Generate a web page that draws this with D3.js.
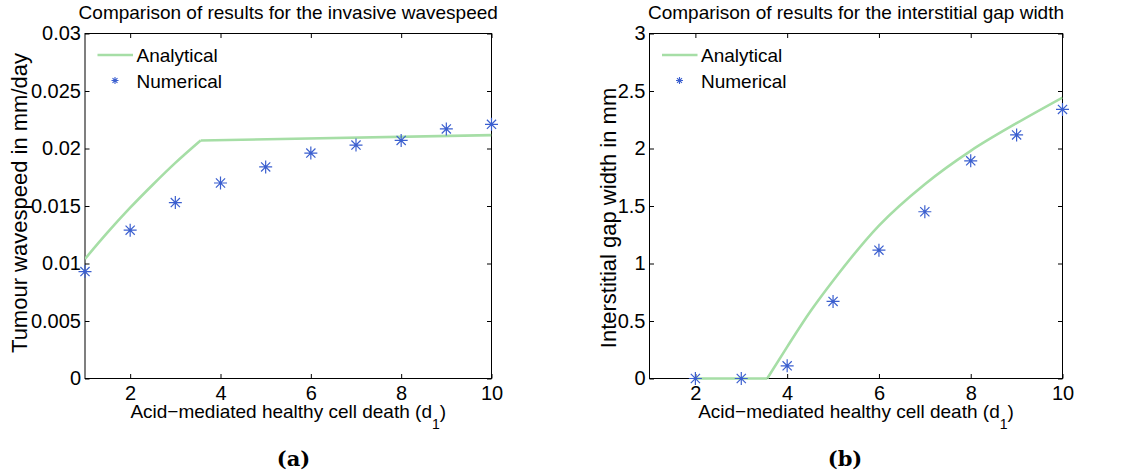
<!DOCTYPE html>
<html>
<head>
<meta charset="utf-8">
<script src="https://cdn.jsdelivr.net/npm/d3@7"></script>
<style>
  html, body { margin: 0; padding: 0; background: #fff; }
  svg { display: block; }
  text { font-family: "Liberation Sans", Arial, Helvetica, sans-serif; fill: #000; }
  text.caption { font-family: "DejaVu Serif", "Liberation Serif", serif; font-weight: bold; }
</style>
</head>
<body>
<svg id="chart" width="1124" height="475"></svg>
<script>
// ---------- data ----------
const d1Values = [1, 2, 3, 4, 5, 6, 7, 8, 9, 10];
const speedNumerical = [0.0093, 0.0129, 0.0153, 0.0170, 0.0184, 0.0196, 0.0203, 0.0207, 0.0217, 0.0221];
const speedAnalyticalX = [1, 1.5, 2, 2.5, 3, 3.56, 10];
const speedAnalyticalY = [0.0104, 0.0127, 0.01485, 0.01685, 0.01875, 0.0207, 0.02116];
const gapD1 = [2, 3, 4, 5, 6, 7, 8, 9, 10];
const gapNumerical = [0, 0, 0.11, 0.67, 1.116, 1.45, 1.893, 2.118, 2.34];
const gapAnalyticalX = [2, 3, 3.565, 4, 4.5, 5, 6, 7, 8, 9, 10];
const gapAnalyticalY = [0, 0, 0, 0.275, 0.58, 0.85, 1.33, 1.69, 1.98, 2.22, 2.443];
const xTicks = [2, 4, 6, 8, 10];
const speedTicks = [0, 0.005, 0.01, 0.015, 0.02, 0.025, 0.03];
const speedTickLabels = ["0", "0.005", "0.01", "0.015", "0.02", "0.025", "0.03"];
const gapTicks = [0, 0.5, 1, 1.5, 2, 2.5, 3];
const gapTickLabels = ["0", "0.5", "1", "1.5", "2", "2.5", "3"];
const kinkSpeed = 3.56, kinkGap = 3.565;

const GREEN = "#a6dea6";
const BLUE = "#3b5fcf";

const svg = d3.select("#chart");
svg.append("rect").attr("width", 1124).attr("height", 475).attr("fill", "#fff");

function asterisk(g, cx, cy, r, sw) {
  const a = r * Math.SQRT1_2;
  const p = `M${cx - r},${cy}L${cx + r},${cy}M${cx},${cy - r}L${cx},${cy + r}` +
            `M${cx - a},${cy - a}L${cx + a},${cy + a}M${cx - a},${cy + a}L${cx + a},${cy - a}`;
  g.append("path").attr("d", p).attr("stroke", BLUE).attr("stroke-width", sw).attr("fill", "none");
}

function panel(opt) {
  const { left, right, top, bottom } = opt.box;
  const x = d3.scaleLinear().domain([1, 10]).range([left, right]);
  const y = d3.scaleLinear().domain(opt.yDomain).range([bottom, top]);
  const g = svg.append("g");
  const T = 4.5;

  g.append("rect").attr("x", left).attr("y", top).attr("width", right - left).attr("height", bottom - top)
    .attr("fill", "none").attr("stroke", "#000").attr("stroke-width", 1);

  const xb = g.append("g").attr("transform", `translate(0,${bottom})`)
    .call(d3.axisBottom(x).tickValues(xTicks).tickSize(-T).tickPadding(7.5).tickFormat(d3.format("d")));
  const xt = g.append("g").attr("transform", `translate(0,${top})`)
    .call(d3.axisTop(x).tickValues(xTicks).tickSize(-T).tickFormat(""));
  const yl = g.append("g").attr("transform", `translate(${left},0)`)
    .call(d3.axisLeft(y).tickValues(opt.yTicks).tickSize(-T).tickPadding(4)
      .tickFormat((d, i) => opt.yTickLabels[i]));
  const yr = g.append("g").attr("transform", `translate(${right},0)`)
    .call(d3.axisRight(y).tickValues(opt.yTicks).tickSize(-T).tickFormat(""));
  [xb, xt, yl, yr].forEach(a => {
    a.select(".domain").remove();
    a.selectAll(".tick line").attr("stroke", "#000").attr("stroke-width", 1);
    a.selectAll(".tick text").attr("font-size", 20).attr("fill", "#000");
  });
  xb.selectAll(".tick text").attr("dy", "0.71em");

  const clipId = "clip" + opt.id;
  svg.append("clipPath").attr("id", clipId).append("rect")
    .attr("x", left).attr("y", top - 2).attr("width", right - left).attr("height", bottom - top + 4);

  // analytical line: one smooth piece, one straight piece, joined at the kink
  const pts = opt.ax.map((v, i) => [v, opt.ay[i]]);
  const before = pts.filter(p => p[0] <= opt.kink);
  const after = pts.filter(p => p[0] >= opt.kink);
  const lineM = d3.line().x(d => x(d[0])).y(d => y(d[1])).curve(d3.curveMonotoneX);
  const lineL = d3.line().x(d => x(d[0])).y(d => y(d[1]));
  const smoothPart = opt.smoothBefore ? before : after;
  const straightPart = opt.smoothBefore ? after : before;
  const lg = g.append("g").attr("clip-path", `url(#${clipId})`);
  lg.append("path").attr("d", lineM(smoothPart)).attr("fill", "none").attr("stroke", GREEN)
    .attr("stroke-width", 2.6).attr("stroke-linejoin", "round");
  lg.append("path").attr("d", lineL(straightPart)).attr("fill", "none").attr("stroke", GREEN)
    .attr("stroke-width", 2.6).attr("stroke-linejoin", "round");

  opt.nx.forEach((v, i) => asterisk(g, x(v), y(opt.ny[i]), 6.5, 1.2));

  // legend
  const lx = left + 12.5;
  g.append("line").attr("x1", lx).attr("x2", lx + 35.5).attr("y1", 55).attr("y2", 55)
    .attr("stroke", GREEN).attr("stroke-width", 2.6);
  g.append("text").attr("x", lx + 39).attr("y", 62).attr("font-size", 19).text("Analytical");
  asterisk(g, lx + 17.5, 80.5, 3.5, 1.1);
  g.append("text").attr("x", lx + 39).attr("y", 87.5).attr("font-size", 19).text("Numerical");

  // title
  g.append("text").attr("x", (left + right) / 2).attr("y", 18.5).attr("text-anchor", "middle")
    .attr("font-size", 19).text(opt.title);

  // x label
  const xlab = g.append("text").attr("x", (left + right) / 2).attr("y", 417.5).attr("text-anchor", "middle")
    .attr("font-size", 19);
  xlab.append("tspan").text("Acid\u2212mediated healthy cell death (d");
  xlab.append("tspan").attr("dy", 11).attr("font-size", 14).text("1");
  xlab.append("tspan").attr("dy", -11).text(")");

  // y label
  g.append("text").attr("transform", `translate(${opt.ylabX},${opt.ylabY}) rotate(-90)`)
    .attr("text-anchor", "middle").attr("font-size", opt.ylabSize).text(opt.ylabel);

  // caption
  g.append("text").attr("class", "caption").attr("x", opt.capX).attr("y", 466).attr("text-anchor", "middle")
    .attr("font-size", 21).text(opt.caption);
}

panel({
  id: "a",
  box: { left: 85, right: 491.5, top: 33.5, bottom: 378.5 },
  yDomain: [0, 0.03], yTicks: speedTicks, yTickLabels: speedTickLabels,
  ax: speedAnalyticalX, ay: speedAnalyticalY, kink: kinkSpeed, smoothBefore: true,
  nx: d1Values, ny: speedNumerical,
  title: "Comparison of results for the invasive wavespeed",
  ylabel: "Tumour wavespeed in mm/day", ylabX: 27, ylabY: 203, ylabSize: 22,
  caption: "(a)", capX: 293.5
});

panel({
  id: "b",
  box: { left: 649.5, right: 1062.5, top: 33.5, bottom: 378.5 },
  yDomain: [0, 3], yTicks: gapTicks, yTickLabels: gapTickLabels,
  ax: gapAnalyticalX, ay: gapAnalyticalY, kink: kinkGap, smoothBefore: false,
  nx: gapD1, ny: gapNumerical,
  title: "Comparison of results for the interstitial gap width",
  ylabel: "Interstitial gap width in mm", ylabX: 616, ylabY: 218, ylabSize: 22,
  caption: "(b)", capX: 845
});
</script>
</body>
</html>
